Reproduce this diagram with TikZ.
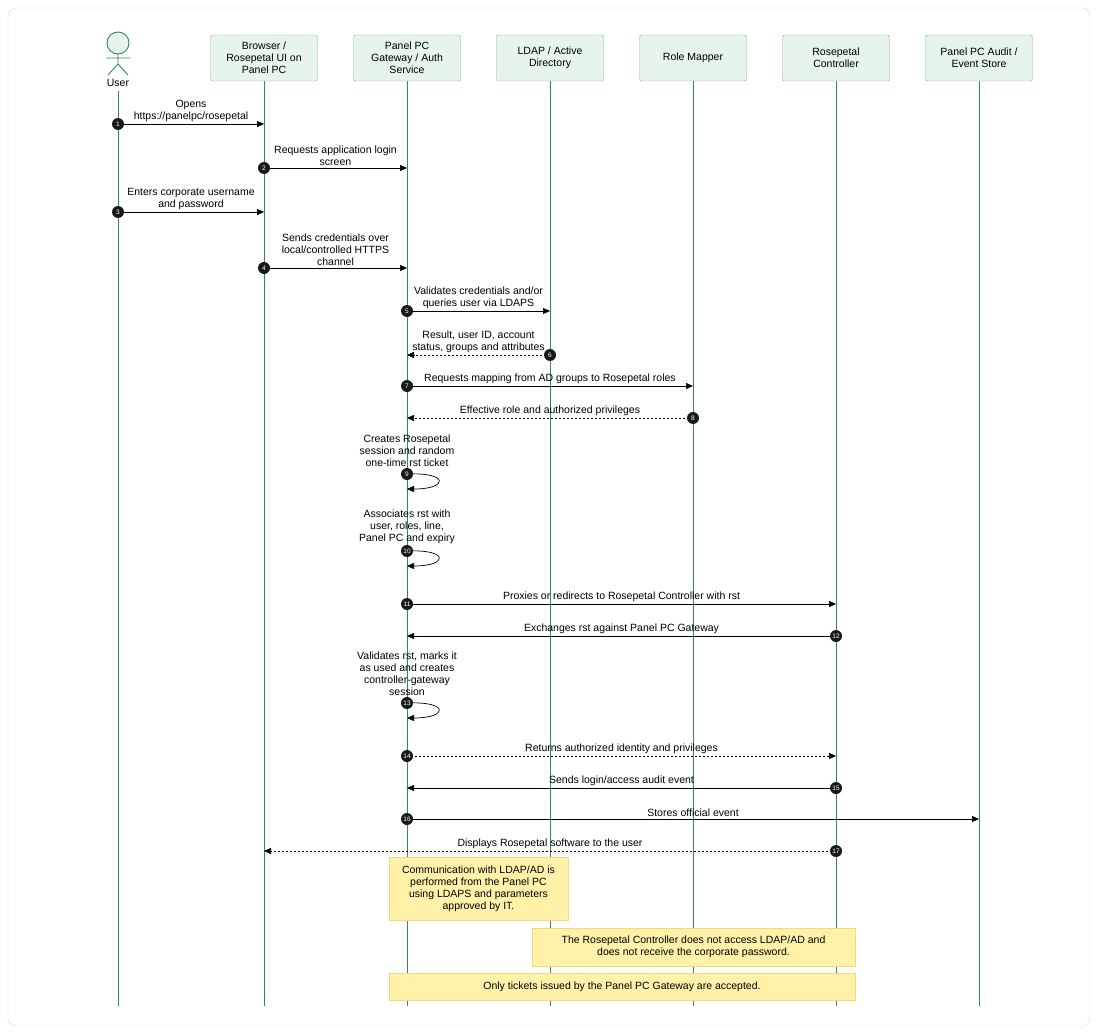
\documentclass[tikz,border=0pt]{standalone}
\usepackage{fontspec}
\setmainfont{Liberation Sans}
\usetikzlibrary{arrows.meta, positioning, calc}
\definecolor{boxfill}{HTML}{E6F4EA}
\definecolor{boxline}{HTML}{7DBF8E}
\definecolor{lifeline}{HTML}{2E8B57}
\definecolor{notefill}{HTML}{FFF2A8}
\definecolor{noteline}{HTML}{F2DA7A}
\tikzset{
  part/.style={draw=boxline, fill=boxfill, rounded corners=1.5, minimum width=107, minimum height=46, align=center, inner sep=1, font=\fontsize{10.5}{12}\selectfont},
  life/.style={draw=lifeline, line width=0.9},
  msg/.style={-{Triangle[length=7,width=6]}, line width=0.7},
  reply/.style={msg, dash pattern=on 2pt off 2pt},
  num/.style={circle, fill=black!90, text=white, inner sep=0, minimum size=12, font=\fontsize{6.5}{6.5}\selectfont},
  lbl/.style={align=center, font=\fontsize{10.5}{12}\selectfont, inner sep=1},
  note/.style={draw=noteline, fill=notefill, align=center, font=\fontsize{10.5}{12}\selectfont, inner sep=1}
}
\newcommand{\sendmsg}[6]{% style, from, to, y, number, label
  \coordinate (yy) at (0,#4);
  \draw[#1] (#2 |- yy) -- (#3 |- yy);
  \node[lbl, anchor=south, yshift=1.5pt] at ($(#2 |- yy)!0.5!(#3 |- yy)$) {#6};
  \node[num] at (#2 |- yy) {#5};
}
\newcommand{\selfmsg}[4]{% lifeline, y, number, label
  \coordinate (yy) at (0,#2);
  \draw[msg] (#1 |- yy) .. controls ($(#1 |- yy)+(42,-2)$) and ($(#1 |- yy)+(42,15)$) .. ($(#1 |- yy)+(0,15)$);
  \node[lbl, anchor=south, yshift=6pt] at (#1 |- yy) {#4};
  \node[num] at (#1 |- yy) {#3};
}
\begin{document}
\begin{tikzpicture}[x=1pt, y=-1pt]
\useasboundingbox (0,0) rectangle (1098,1033);
\draw[black!15, rounded corners=8, fill=white] (8,8) rectangle (1090,1026);

% participants
\node (br) [part] at (264,58) {Browser /\\Rosepetal UI on\\Panel PC};
\node (gw) [part] at (407,58) {Panel PC\\Gateway / Auth\\Service};
\node (ld) [part] at (550,58) {LDAP / Active\\Directory};
\node (rm) [part] at (693,58) {Role Mapper};
\node (ct) [part] at (836,58) {Rosepetal\\Controller};
\node (au) [part] at (979,58) {Panel PC Audit /\\Event Store};
\coordinate (us) at (118,58);

% actor
\begin{scope}[draw=lifeline, line width=0.9]
\draw[fill=boxfill] (118,43) circle (11);
\draw (118,54) -- (118,64) (106,58) -- (130,58) (118,64) -- (108,75) (118,64) -- (128,75);
\end{scope}
\node[lbl] at (118,83) {User};

% lifelines
\draw[life] (118,91) -- (118,1006);
\foreach \p in {br,gw,ld,rm,ct,au}
  \draw[life] (\p.south) -- (\p.south |- 0,1006);

% notes
\node (n1) [note, minimum width=179, minimum height=63] at (478.5,888.5) {Communication with LDAP/AD is\\performed from the Panel PC\\using LDAPS and parameters\\approved by IT.};
\node (n2) [note, minimum width=323, minimum height=38] at (693.5,947) {The Rosepetal Controller does not access LDAP/AD and\\does not receive the corporate password.};
\node (n3) [note, minimum width=466, minimum height=27] at (622,986.5) {Only tickets issued by the Panel PC Gateway are accepted.};

% messages
\sendmsg{msg}{us}{br}{124}{1}{Opens\\https://panelpc/rosepetal}
\sendmsg{msg}{br}{gw}{168}{2}{Requests application login\\screen}
\sendmsg{msg}{us}{br}{212}{3}{Enters corporate username\\and password}
\sendmsg{msg}{br}{gw}{268}{4}{Sends credentials over\\local/controlled HTTPS\\channel}
\sendmsg{msg}{gw}{ld}{311}{5}{Validates credentials and/or\\queries user via LDAPS}
\sendmsg{reply}{ld}{gw}{355}{6}{Result, user ID, account\\status, groups and attributes}
\sendmsg{msg}{gw}{rm}{386}{7}{Requests mapping from AD groups to Rosepetal roles}
\sendmsg{reply}{rm}{gw}{418}{8}{Effective role and authorized privileges}
\selfmsg{gw}{474}{9}{Creates Rosepetal\\session and random\\one-time rst ticket}
\selfmsg{gw}{551}{10}{Associates rst with\\user, roles, line,\\Panel PC and expiry}
\sendmsg{msg}{gw}{ct}{604}{11}{Proxies or redirects to Rosepetal Controller with rst}
\sendmsg{msg}{ct}{gw}{636}{12}{Exchanges rst against Panel PC Gateway}
\selfmsg{gw}{703}{13}{Validates rst, marks it\\as used and creates\\controller-gateway\\session}
\sendmsg{reply}{gw}{ct}{756}{14}{Returns authorized identity and privileges}
\sendmsg{msg}{ct}{gw}{788}{15}{Sends login/access audit event}
\sendmsg{msg}{gw}{au}{819}{16}{Stores official event}
\sendmsg{reply}{ct}{br}{851}{17}{Displays Rosepetal software to the user}
\end{tikzpicture}
\end{document}
